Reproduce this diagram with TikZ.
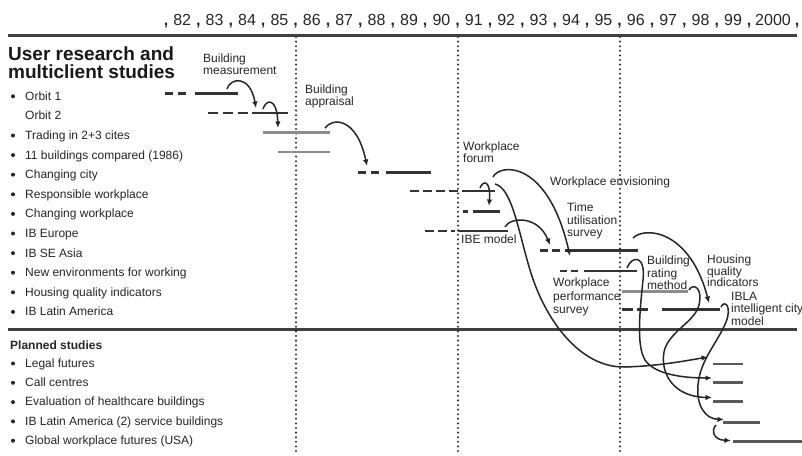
\documentclass[tikz,border=0pt]{standalone}
\usepackage{fontspec}
\setmainfont{Liberation Sans}
\usetikzlibrary{arrows.meta}
\begin{document}
\begin{tikzpicture}[x=1pt,y=-1pt,
  yrlbl/.style={font=\fontsize{16}{16}\selectfont, inner sep=0pt, anchor=base, text=black!85},
  commamk/.style={font=\bfseries\fontsize{16}{16}\selectfont, inner sep=0pt, anchor=base, text=black!85},
  lbl/.style={font=\fontsize{12}{12}\selectfont, inner sep=0pt, anchor=base west, text=black!85},
  note/.style={font=\fontsize{12}{12}\selectfont, inner sep=0pt, anchor=north west, align=left, text=black!85},
  bul/.style={fill=black!85},
  bar/.style={line width=2.2pt, draw=black!80},
  graybar/.style={line width=2.2pt, draw=black!45},
  planbar/.style={line width=2.2pt, draw=black!65},
  dbar/.style={bar, dash pattern=on 8pt off 5pt},
  conn/.style={line width=1.5pt, draw=black!85, -{Latex[length=6.5pt,width=5.5pt]}},
  vdots/.style={line width=2.3pt, draw=black!80, line cap=round, dash pattern=on 0pt off 4.6pt},
  rulel/.style={line width=3pt, draw=black!75}]
\useasboundingbox (0,0) rectangle (802,455);
\fill[white] (0,0) rectangle (802,455);

% ---- year axis
\foreach \n [count=\k from 0] in {82,83,...,99}{
  \node[yrlbl] (yr\n) at ({182.2+32.4*\k},25) {\n};
}
\node[yrlbl] (yr2000) at (773,25) {2000};
\foreach \k in {0,...,18}{
  \node[commamk] (cmk\k) at ({166+32.4*\k},25.5) {,};
}
\node[commamk] (cmk19) at (797,25.5) {,};

% ---- rules and dotted dividers
\draw[rulel] (8,35) -- (797,35);
\draw[rulel] (8,329) -- (797,329);
\foreach \x in {296,458,620}{
  \draw[vdots] (\x,37) -- (\x,455);
}

% ---- headings
\node[anchor=north west, align=left, inner sep=0pt, text=black!90,
      font=\bfseries\fontsize{19}{18.5}\selectfont] (title) at (8,46.5)
      {User research and\\multiclient studies};
\node[anchor=base west, inner sep=0pt, text=black!85,
      font=\bfseries\fontsize{12}{12}\selectfont] (planned) at (10,349.5) {Planned studies};

% ---- research list
\fill[bul] (13,96.3) circle (2pt);
\node[lbl] (l0) at (25,100.2) {Orbit 1};
\node[lbl] (l1) at (25,119.8) {Orbit 2};
\fill[bul] (13,135.5) circle (2pt);
\node[lbl] (l2) at (25,139.4) {Trading in 2+3 cites};
\fill[bul] (13,155.1) circle (2pt);
\node[lbl] (l3) at (25,159.0) {11 buildings compared (1986)};
\fill[bul] (13,174.7) circle (2pt);
\node[lbl] (l4) at (25,178.6) {Changing city};
\fill[bul] (13,194.3) circle (2pt);
\node[lbl] (l5) at (25,198.2) {Responsible workplace};
\fill[bul] (13,213.9) circle (2pt);
\node[lbl] (l6) at (25,217.8) {Changing workplace};
\fill[bul] (13,233.5) circle (2pt);
\node[lbl] (l7) at (25,237.4) {IB Europe};
\fill[bul] (13,253.1) circle (2pt);
\node[lbl] (l8) at (25,257.0) {IB SE Asia};
\fill[bul] (13,272.7) circle (2pt);
\node[lbl] (l9) at (25,276.6) {New environments for working};
\fill[bul] (13,292.3) circle (2pt);
\node[lbl] (l10) at (25,296.2) {Housing quality indicators};
\fill[bul] (13,311.9) circle (2pt);
\node[lbl] (l11) at (25,315.8) {IB Latin America};

% ---- planned list
\fill[bul] (13,363.5) circle (2pt);
\node[lbl] (p0) at (25,367.2) {Legal futures};
\fill[bul] (13,382.8) circle (2pt);
\node[lbl] (p1) at (25,386.5) {Call centres};
\fill[bul] (13,402.1) circle (2pt);
\node[lbl] (p2) at (25,405.8) {Evaluation of healthcare buildings};
\fill[bul] (13,421.4) circle (2pt);
\node[lbl] (p3) at (25,425.1) {IB Latin America (2) service buildings};
\fill[bul] (13,440.7) circle (2pt);
\node[lbl] (p4) at (25,444.4) {Global workplace futures (USA)};

% ---- timeline bars
\draw[dbar] (165,93.5) -- (186,93.5);
\draw[bar] (195,93.5) -- (238,93.5);
\draw[bar, dash pattern=on 10pt off 5pt] (208,113) -- (248,113);
\draw[bar] (252,113) -- (288,113);
\draw[graybar] (263,132.5) -- (330,132.5);
\draw[graybar] (278,152) -- (330,152);
\draw[dbar] (358,172.5) -- (379,172.5);
\draw[bar] (386,172.5) -- (431,172.5);
\draw[bar, dash pattern=on 9pt off 4pt] (410,191) -- (458,191);
\draw[bar] (462,191) -- (495,191);
\draw[bar] (463,211.5) -- (468,211.5);
\draw[bar] (473,211.5) -- (500,211.5);
\draw[bar, dash pattern=on 9pt off 4pt] (425,231) -- (455,231);
\draw[bar] (458,231) -- (508,231);
\draw[bar, dash pattern=on 8pt off 4pt] (540,250.5) -- (560,250.5);
\draw[bar] (565,250.5) -- (638,250.5);
\draw[bar, dash pattern=on 7pt off 4pt] (560,271) -- (578,271);
\draw[bar] (584,271) -- (637,271);
\draw[graybar] (622,291.5) -- (688,291.5);
\draw[bar, dash pattern=on 11pt off 4pt] (622,309.5) -- (648,309.5);
\draw[bar] (662,309.5) -- (720,309.5);
\draw[planbar] (713,364) -- (743,364);
\draw[planbar] (713,382.5) -- (743,382.5);
\draw[planbar] (713,401.5) -- (743,401.5);
\draw[planbar] (723,422.5) -- (760,422.5);
\draw[planbar] (733,441.5) -- (802,441.5);

% ---- annotations
\node[note] (bm) at (203,54) {Building\\measurement};
\node[note] (ba) at (305,85) {Building\\appraisal};
\node[note] (wf) at (463,142) {Workplace\\forum};
\node[note] (we) at (550,177) {Workplace envisioning};
\node[note, font=\fontsize{12}{12.5}\selectfont] (tu) at (567,203) {Time\\utilisation\\survey};
\node[note] (ibe) at (461,235) {IBE model};
\node[note, font=\fontsize{12}{10.5}\selectfont] (brm) at (647,256) {Building\\rating\\method};
\node[note, font=\fontsize{12}{11.5}\selectfont] (hqi) at (707,255) {Housing\\quality\\indicators};
\node[note, font=\fontsize{12}{13.5}\selectfont] (wps) at (553,278) {Workplace\\performance\\survey};
\node[note, font=\fontsize{12}{12.5}\selectfont] (ibla) at (731,292) {IBLA\\intelligent city\\model};

% ---- connector end points
\coordinate (o1s) at (227,89);   \coordinate (o2e) at (256,108);
\coordinate (o2s) at (263,109);  \coordinate (tre) at (278,128);
\coordinate (trs) at (325,128);  \coordinate (cce) at (367,166);
\coordinate (rws) at (480,188);  \coordinate (cwe) at (489,206);
\coordinate (wes) at (493,177);  \coordinate (wee) at (570,256);
\coordinate (wfs) at (495,184);  \coordinate (lfe) at (708,357);
\coordinate (ibs) at (505,227);  \coordinate (ibe2) at (550,245);
\coordinate (sas) at (633,238);  \coordinate (hqe) at (709,303);
\coordinate (nes) at (627,268);  \coordinate (cce2) at (712,378);
\coordinate (hqs) at (689,290);  \coordinate (ehe) at (712,397.5);
\coordinate (las) at (721,307);  \coordinate (l2e) at (724,419.5);
\coordinate (l2s) at (716,425);  \coordinate (gwe) at (731,440.5);

% ---- connectors
\draw[conn] (o1s) .. controls (230,78) and (250,74) .. (o2e);
\draw[conn] (o2s) .. controls (266,99) and (277,97) .. (tre);
\draw[conn] (trs) .. controls (333,117) and (357,118) .. (cce);
\draw[conn] (rws) .. controls (483,180) and (491,180) .. (cwe);
\draw[conn] (wes) .. controls (500,163) and (548,160) .. (wee);
\draw[conn] (wfs) .. controls (512,188) and (518,230) .. (530,270)
   .. controls (545,320) and (580,368) .. (625,367)
   .. controls (660,366) and (690,360) .. (lfe);
\draw[conn] (ibs) .. controls (510,217) and (538,215) .. (ibe2);
\draw[conn] (sas) .. controls (645,226) and (690,230) .. (hqe);
\draw[conn] (nes) .. controls (632,255) and (646,255) .. (643,280)
   .. controls (640,310) and (636,345) .. (645,360)
   .. controls (655,375) and (685,378) .. (cce2);
\draw[conn] (hqs) .. controls (693,283) and (703,287) .. (699,305)
   .. controls (695,322) and (668,332) .. (664,352)
   .. controls (660,375) and (675,397) .. (ehe);
\draw[conn] (las) .. controls (725,299) and (732,307) .. (726,322)
   .. controls (718,342) and (700,360) .. (698,385)
   .. controls (696,405) and (705,419) .. (l2e);
\draw[conn] (l2s) .. controls (711,430) and (713,440) .. (gwe);
\end{tikzpicture}
\end{document}
